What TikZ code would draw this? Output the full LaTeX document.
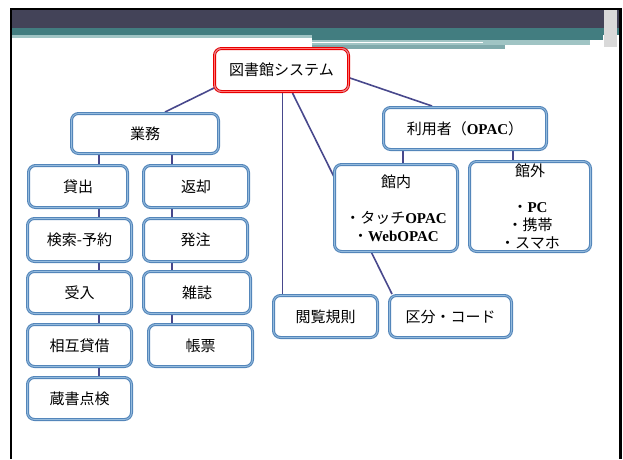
\documentclass[tikz,border=0pt]{standalone}
\usepackage{fontspec}
\setmainfont{Liberation Serif}
\newfontfamily\jp{Noto Sans CJK JP}
\usetikzlibrary{calc,backgrounds}
\definecolor{band}{RGB}{67,67,88}
\definecolor{teala}{RGB}{66,125,128}
\definecolor{hatcha}{RGB}{160,196,196}
\definecolor{hatchb}{RGB}{128,170,172}
\definecolor{bedge}{RGB}{84,134,186}
\definecolor{binner}{RGB}{150,188,222}
\definecolor{redge}{RGB}{232,0,0}
\definecolor{rinner}{RGB}{255,120,120}
\definecolor{conn}{RGB}{72,72,140}
\newcommand{\lt}[1]{{\rmfamily\bfseries #1}}
\begin{document}
\begin{tikzpicture}[x=1pt,y=-1pt,
  box/.style={draw=bedge, line width=3pt, rounded corners=7pt, fill=white,
    inner sep=0pt, align=center, text=black,
    font=\jp\fontsize{15}{18}\selectfont,
    postaction={draw=binner, line width=0.8pt}},
  rbox/.style={box, draw=redge, postaction={draw=rinner, line width=0.8pt}},
  link/.style={draw=conn, line width=1.6pt}]
\useasboundingbox (0,0) rectangle (623,459);
% header
\fill[black] (10,8) rectangle (622,10);
\fill[black] (10,8) rectangle (12,459);
\fill[black] (619,8) rectangle (622,459);
\fill[band] (12,10) rectangle (619,28);
\fill[teala] (12,28) rectangle (619,35);
\fill[hatcha] (12,35) rectangle (312,38);
\fill[teala] (312,35) rectangle (603,40);
\fill[hatcha] (312,40) rectangle (590,45);
\draw[white, line width=1pt] (312,42) -- (483,42);
\fill[hatchb] (312,45) rectangle (505,49);
\fill[black!15] (604,10) rectangle (617,47);
% nodes
\node[rbox, minimum width=134, minimum height=43] (sys) at (281.5,70) {図書館システム};
\node[box, minimum width=147, minimum height=40] (gyomu) at (145,133.5) {業務};
\node[box, minimum width=99, minimum height=42] (kashi) at (78,186.5) {貸出};
\node[box, minimum width=105, minimum height=42] (henkyaku) at (196,186.5) {返却};
\node[box, minimum width=104, minimum height=43] (kensaku) at (79.5,240) {検索-予約};
\node[box, minimum width=104, minimum height=43] (hatchu) at (195.5,240) {発注};
\node[box, minimum width=104, minimum height=42] (ukeire) at (79.5,292.5) {受入};
\node[box, minimum width=107, minimum height=42] (zasshi) at (197,292.5) {雑誌};
\node[box, minimum width=104, minimum height=42] (sogo) at (79.5,345.5) {相互貸借};
\node[box, minimum width=104, minimum height=42] (chohyo) at (200.5,345.5) {帳票};
\node[box, minimum width=104, minimum height=42] (zosho) at (79.5,398.5) {蔵書点検};
\node[box, minimum width=104, minimum height=42] (etsuran) at (325.5,316.5) {閲覧規則};
\node[box, minimum width=122, minimum height=42] (kubun) at (450.5,316.5) {区分・コード};
\node[box, minimum width=163, minimum height=42] (riyosha) at (465,128.5) {利用者（\lt{OPAC}）};
\node[box, minimum width=123, minimum height=87] (kannai) at (396,208) {館内\\[18pt]・タッチ\lt{OPAC}\\・\lt{WebOPAC}};
\node[box, minimum width=121, minimum height=90] (kangai) at (530,206.5) {館外\\[18pt]・\lt{PC}\\・携帯\\・スマホ};
% connector columns
\coordinate (cl) at (99,0);
\coordinate (cr) at (172,0);
\coordinate (ci) at (403,0);
\coordinate (co) at (513,0);
\coordinate (cm) at (282.5,0);
\begin{pgfonlayer}{background}
\draw[link] ($(sys.south west)+(1,-5)$) -- ($(gyomu.north west)+(95,0)$);
\draw[link] ($(sys.east)+(0,8)$) -- ($(riyosha.north west)+(50,0)$);
\draw[link] (sys.south -| cm) -- (etsuran.north -| cm);
\draw[link] ($(sys.south)+(11,0)$) -- ($(kubun.north west)+(4,0)$);
\draw[link] (gyomu.south -| cl) -- (kashi.north -| cl);
\draw[link] (kashi.south -| cl) -- (kensaku.north -| cl);
\draw[link] (kensaku.south -| cl) -- (ukeire.north -| cl);
\draw[link] (ukeire.south -| cl) -- (sogo.north -| cl);
\draw[link] (sogo.south -| cl) -- (zosho.north -| cl);
\draw[link] (gyomu.south -| cr) -- (henkyaku.north -| cr);
\draw[link] (henkyaku.south -| cr) -- (hatchu.north -| cr);
\draw[link] (hatchu.south -| cr) -- (zasshi.north -| cr);
\draw[link] (zasshi.south -| cr) -- (chohyo.north -| cr);
\draw[link] (riyosha.south -| ci) -- (kannai.north -| ci);
\draw[link] (riyosha.south -| co) -- (kangai.north -| co);
\end{pgfonlayer}
\end{tikzpicture}
\end{document}
